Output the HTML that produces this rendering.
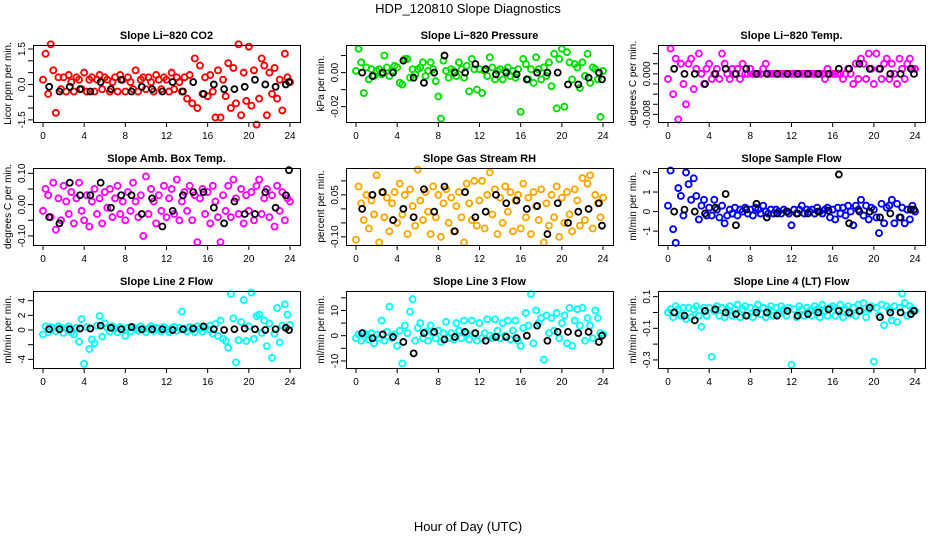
<!DOCTYPE html>
<html><head><meta charset="utf-8"><style>
html,body{margin:0;padding:0;background:#fff;}
svg{display:block;font-family:"Liberation Sans",Arial,sans-serif;}
</style></head><body>
<svg id="chart" width="936" height="540" viewBox="0 0 936 540" xmlns="http://www.w3.org/2000/svg">
<rect width="936" height="540" fill="#fff"/>
<text x="468" y="13" text-anchor="middle" font-size="13">HDP_120810  Slope Diagnostics</text>
<text x="468" y="531" text-anchor="middle" font-size="13">Hour of Day (UTC)</text>
</svg>
<script>
const blackHours=[0.6,1.6,2.6,3.6,4.6,5.6,6.6,7.6,8.6,9.6,10.6,11.6,12.6,13.6,14.6,15.6,16.6,17.6,18.6,19.6,20.6,21.6,22.6,23.6,23.9];
const xTicks=[0,4,8,12,16,20,24];
const panelTitles=["Slope Li\u2212820 CO2","Slope Li\u2212820 Pressure","Slope Li\u2212820 Temp.","Slope Amb. Box Temp.","Slope Gas Stream RH","Slope Sample Flow","Slope Line 2 Flow","Slope Line 3 Flow","Slope Line 4 (LT) Flow"];
const yTitles=["Licor ppm per min.","kPa per min.","degrees C per min.","degrees C per min.","percent per min.","ml/min per min.","ml/min per min.","ml/min per min.","ml/min per min."];
const yLims=[[-1.59,1.67],[-0.029,0.0162],[-0.0095,0.0057],[-0.129,0.117],[-0.129,0.146],[-1.71,2.23],[-5.18,5.32],[-12.8,17.7],[-0.351,0.136]];
const yTicks=[[-1.5,-1,-0.5,0,0.5,1,1.5],[-0.02,-0.01,0,0.01],[-0.008,-0.006,-0.004,-0.002,0,0.002,0.004],[-0.1,-0.05,0,0.05,0.1],[-0.1,-0.05,0,0.05,0.1],[-1,0,1,2],[-4,-2,0,2,4],[-10,-5,0,5,10,15],[-0.3,-0.2,-0.1,0,0.1]];
const yTickLabels=[["-1.5","","","0.0","","","1.5"],["-0.02","","0.00",""],["-0.008","","","","0.000","",""],["-0.10","","0.00","","0.10"],["-0.10","","","0.05",""],["-1","0","1","2"],["-4","","0","2","4"],["-10","","0","","10",""],["-0.3","","-0.1","","0.1"]];
const colors=["#ff0000","#00e000","#ff00ff","#ff00ff","#ffa500","#0000ff","#00ffff","#00ffff","#00ffff"];
const co2=[0.2,1.3,-0.4,1.7,0.6,-1.2,0.3,-0.2,0.3,-0.3,0.4,0.1,-0.3,0.3,0.2,-0.2,0.5,-0.3,0.2,0.3,-0.3,0.2,0.4,-0.2,0.3,0.2,-0.3,0.1,0.3,-0.3,0.4,0.2,-0.3,0.3,0.1,-0.2,0.6,-0.3,0.2,0.3,-0.2,0.3,0.1,-0.3,0.4,0.2,-0.2,0.3,0.2,-0.3,0.5,-0.2,0.3,0.1,-0.3,0.3,-0.6,0.4,-0.8,1.1,-1.0,0.8,-0.4,0.3,-0.5,0.4,-0.3,-1.4,0.6,-1.4,0.2,-0.5,0.9,-1.0,0.7,-0.8,1.7,-1.3,0.5,-0.7,1.6,-0.9,0.6,-1.7,-0.6,1.1,0.8,-1.3,0.5,-0.4,0.7,-0.6,0.2,-1.1,1.3,0.3,0.1];
const co2Black=[-0.1,-0.3,-0.1,-0.2,-0.3,0.1,-0.2,0.2,-0.3,-0.1,-0.2,-0.3,0.1,-0.3,0.1,-0.4,0.0,-0.2,-0.2,-0.1,0.2,0.0,-0.1,0.0,0.1];
const press=[0.001,0.014,0.006,-0.012,0.003,-0.004,0.002,-0.002,0.001,0.002,-0.001,0.010,0.003,-0.002,0.001,0.004,0.003,-0.006,-0.007,0.008,0.008,-0.003,0.002,-0.001,0.002,0.003,0.006,-0.002,0.001,0.006,0.002,-0.005,-0.014,-0.027,0.007,0.001,-0.003,0.002,0.001,-0.002,0.006,0.002,-0.003,0.004,-0.011,0.008,0.002,-0.010,0.002,-0.012,0.001,-0.002,0.009,0.003,-0.004,0.001,0.002,-0.004,0.001,0.003,-0.002,0.001,-0.003,0.002,-0.023,0.008,0.005,-0.004,0.002,-0.006,0.009,0.002,-0.004,0.003,-0.002,0.006,-0.008,0.011,-0.021,0.008,0.014,-0.020,0.012,0.006,-0.004,0.005,0.003,-0.009,0.006,-0.002,0.011,-0.006,0.003,0.002,-0.004,-0.026,0.001];
const pressBlack=[0.0,-0.002,0.0,0.0,0.007,-0.003,-0.006,0.0,0.010,0.0,0.0,0.005,0.002,-0.001,0.0,-0.001,-0.004,0.0,0.0,0.0,-0.007,-0.007,-0.003,0.0,-0.004];
const temp=[-0.001,0.005,-0.004,0.003,-0.009,0.002,-0.002,-0.006,0.002,0.003,-0.003,0.001,0.004,0.000,-0.002,0.001,0.002,-0.001,0.000,0.001,-0.001,0.004,0.002,0.000,-0.001,0.001,0.000,0.001,-0.001,0.002,0.000,0.000,0.001,0.000,0.000,0.000,0.000,0.001,0.002,0.000,0,0,0,0,0,0,0,0,0,0,0,0,0,0,0,0,0,0,0,0,0,-0.001,0.001,0,0,0,0,0,-0.001,0,0.001,0,-0.002,0.002,-0.001,0.003,0.002,-0.001,0.004,0.001,-0.002,0.004,0.001,-0.001,0.002,0.003,-0.001,0.002,0.000,-0.002,0.003,0.001,-0.001,0.002,0.003,0.001,0.001];
const tempBlack=[0.001,0,0,-0.002,0,0.001,0,0.001,0,0,0,0,0,0,0,0,0.001,0.001,0.002,0.001,0.001,0,0,0.001,0];
const amb=[-0.02,0.05,0.03,-0.04,0.07,-0.08,0.02,-0.05,0.06,0.01,-0.03,0.04,-0.06,0.02,0.07,-0.02,-0.05,0.03,-0.07,0.01,0.05,-0.03,0.02,-0.06,0.04,-0.01,0.05,-0.04,0.02,0.06,-0.03,0.01,-0.05,0.04,-0.02,0.07,0.01,-0.04,0.03,-0.10,0.09,-0.03,0.05,0.01,-0.06,0.03,-0.02,0.06,-0.04,0.02,0.05,-0.03,0.08,-0.05,0.01,0.04,-0.02,0.06,-0.05,0.03,-0.12,0.02,0.05,-0.03,0.04,-0.06,0.06,0.01,-0.04,-0.12,0.03,-0.02,0.06,-0.04,0.08,0.02,-0.03,0.05,-0.06,0.03,-0.02,0.04,-0.05,0.06,0.08,-0.03,0.02,0.05,-0.04,0.03,-0.07,0.06,-0.02,0.04,-0.05,0.02,0.01];
const ambBlack=[-0.04,-0.06,0.07,0.03,0.03,0.07,-0.01,0.03,0.03,-0.03,0.02,-0.07,-0.02,0.03,0.04,0.04,-0.01,-0.06,0.01,-0.03,-0.03,0.04,-0.01,0.03,0.11];
const rh=[-0.11,0.08,0.02,-0.04,0.05,-0.07,0.03,-0.02,0.12,-0.12,0.06,-0.03,0.04,-0.08,0.02,0.06,-0.05,0.09,-0.02,0.05,-0.09,0.07,0.01,-0.06,0.14,0.03,-0.04,0.06,-0.01,-0.09,0.08,-0.03,0.05,-0.10,0.02,0.07,-0.05,0.04,-0.08,0.01,0.06,-0.03,-0.12,0.09,0.02,-0.04,0.10,-0.06,0.03,0.10,-0.07,0.05,0.13,-0.02,0.07,-0.09,0.04,-0.05,0.08,-0.01,0.06,-0.08,0.03,0.05,-0.07,0.09,-0.03,0.04,-0.09,0.06,0.01,-0.04,0.07,-0.12,0.02,-0.06,0.05,-0.03,0.08,-0.10,0.04,-0.05,0.06,-0.02,-0.08,0.07,0.03,-0.06,0.11,-0.04,0.09,0.12,-0.07,0.05,0.02,-0.03,0.04];
const rhBlack=[0.0,0.05,0.06,-0.04,0.0,-0.03,0.07,-0.01,0.08,-0.08,0.06,-0.03,-0.01,0.05,0.02,0.03,0.0,0.01,-0.09,0.02,-0.05,-0.01,0.0,0.02,-0.06];
const sflow=[0.3,2.1,-0.9,-1.6,1.2,0.8,-0.2,2.0,1.4,0.6,1.7,0.8,-0.4,0.3,0.6,-0.2,0.2,-0.2,0.6,0.1,-0.3,0.3,-0.6,-0.2,0.1,-0.1,0.2,-0.2,0.1,0.0,0.2,-0.1,0.1,-0.2,0.2,0.1,-0.1,0.3,0.0,-0.1,0.1,-0.1,0.1,0.0,-0.1,0.1,0.0,-0.1,-0.7,0.1,-0.1,0.1,0.3,-0.1,0.1,0.0,0.1,-0.1,0.2,0.0,-0.1,0.1,0.2,-0.3,0.1,-0.4,0.2,-0.1,0.2,-0.2,0.3,0.0,-0.7,0.3,0.1,0.6,-0.2,0.3,-0.4,0.2,0.1,-0.3,-1.1,0.4,-0.6,0.2,0.3,0.6,-0.6,0.4,-0.3,0.2,-0.6,0.1,-0.4,0.3,0.0];
const sflowBlack=[0.0,0.1,0.0,-0.1,0.2,0.9,-0.7,0.1,0.4,-0.3,-0.1,0.0,-0.1,-0.1,0.0,0.05,1.9,-0.6,0.0,0.0,-0.3,-0.1,-0.3,0.1,0.1];
const line2=[-0.6,0.5,-0.3,0.4,0.3,-0.2,0.5,0.3,-0.4,0.2,0.5,-0.3,-0.6,0.3,-1.6,1.5,-4.6,0.4,-2.6,-1.3,-1.8,0.6,1.9,-0.9,0.9,0.3,-0.2,0.5,0.2,-0.3,0.4,0.2,-0.8,0.3,-0.2,0.4,0.2,-0.1,0.5,0.1,-0.3,0.2,0.5,-0.1,0.3,0.2,-0.2,0.4,0.1,-0.3,0.2,0.4,-0.1,0.3,2.5,0.2,-0.2,0.4,0.1,-0.3,0.5,0.2,-0.2,0.3,0.1,0.6,-0.5,0.8,-0.8,1.3,-1.2,-1.5,-2.4,4.9,1.6,-4.4,-1.4,1.1,4.1,-1.5,0.5,5.1,-1.2,1.9,2.1,-0.4,1.3,-2.2,0.9,-3.8,-0.5,3.0,-1.7,0.6,3.5,2.1,0.7];
const line2Black=[0.1,0.1,0.1,0.2,0.2,0.6,0.3,0.1,0.4,0.1,0.1,0.1,0.0,0.1,0.2,0.5,0.1,0.0,0.1,0.2,0.1,0.0,0.1,0.3,0.0];
const line3=[-1,0.5,-2,1,0.5,-1.5,1,-3,0.5,-1,6,-2,1.5,11.5,-1,0.5,-4,2,-11,4,1,9.5,14.5,-2,3,5,-1,1.5,-2,4,1,-1,2,-2.5,1,5.5,-1,1,-1.5,5,2,-1,6,1,-1.5,6,1,-2,5,-1,1,6.5,0,-1,6.5,2,-1,5,0,6,-1.5,2,6,-2,-4,3,9,4,16.5,-3,10,5,7,-9.5,8,1,7,2,9,-1,5,8,-3,11,-4,6,10.5,4,11,-2,7,4,-1,10,7,1,0.5];
const line3Black=[1,-1,0.5,-0.5,-2.5,-7,1,1.5,-1.5,-0.5,1.5,1,-2,-0.5,-0.5,-1,0,4,-2,1.5,1.5,1,1.5,-2.5,0];
const line4=[0.0,0.02,-0.03,0.04,0.02,-0.02,0.03,-0.04,0.03,-0.03,0.02,0.04,-0.02,-0.09,0.03,-0.02,0.03,-0.28,0.01,0.04,-0.02,0.03,-0.03,0.02,0.04,-0.02,0.02,0.05,-0.03,0.02,0.04,-0.02,0.03,-0.03,0.02,0.05,-0.01,0.03,-0.03,0.02,0.04,-0.02,0.03,-0.01,0.04,0.02,-0.02,0.03,-0.33,0.02,-0.03,0.04,0.02,-0.02,0.03,0.01,-0.02,0.04,0.02,-0.03,0.05,0.01,-0.02,0.03,0.04,-0.02,0.02,0.05,-0.03,0.02,0.04,-0.01,0.03,-0.02,0.05,0.01,0.06,-0.03,0.02,0.04,-0.31,0.03,-0.02,0.05,-0.08,0.04,0.02,-0.05,0.04,-0.06,0.03,0.12,0.06,-0.02,0.04,0.02,0.01];
const line4Black=[0.0,-0.02,-0.05,0.01,0.02,0.0,-0.01,-0.02,0.0,0.0,-0.02,0.01,-0.02,-0.01,0.0,0.02,0.01,0.0,0.01,0.03,-0.03,0.0,0.0,-0.01,0.01];
const colorSeries=[co2,press,temp,amb,rh,sflow,line2,line3,line4];
const blackSeries=[co2Black,pressBlack,tempBlack,ambBlack,rhBlack,sflowBlack,line2Black,line3Black,line4Black];

const NS="http://www.w3.org/2000/svg";
const svg=document.getElementById('chart');
const boxLefts=[33,346,658], boxTops=[45,168,291], boxW=267, boxH=77;
function mk(tag,attrs,parent){const e=document.createElementNS(NS,tag);for(const k in attrs)e.setAttribute(k,attrs[k]);(parent||svg).appendChild(e);return e;}
const slugs=["co2","pressure","li820-temp","amb-box-temp","gas-stream-rh","sample-flow","line2-flow","line3-flow","line4-flow"];
for(let p=0;p<9;p++){
  const L=boxLefts[p%3], T=boxTops[Math.floor(p/3)];
  const g=mk('g',{});
  
  
  const xs=h=>L+10+h/24*247;
  const [y0,y1]=yLims[p];
  const ys=v=>T+boxH-(v-y0)/(y1-y0)*boxH;
  const t=mk('text',{x:L+boxW/2,y:T-6,'text-anchor':'middle','font-size':11,'font-weight':'bold'},g);
  t.textContent=panelTitles[p];
  
  
  const cs=colorSeries[p];
  for(let i=0;i<cs.length;i++){
    const c=mk('circle',{cx:xs(i*0.25),cy:ys(cs[i]),r:3,fill:'none',stroke:colors[p],'stroke-width':1.9},g);
    
    
  }
  const bs=blackSeries[p];
  for(let i=0;i<bs.length;i++){
    const c=mk('circle',{cx:xs(blackHours[i]),cy:ys(bs[i]),r:3,fill:'none',stroke:'#000','stroke-width':1.8},g);
    
    
  }
  const b=mk('rect',{x:L+0.5,y:T+0.5,width:boxW,height:boxH,fill:'none',stroke:'#000','stroke-width':1},g);
  
  
  mk('line',{x1:xs(0),x2:xs(24),y1:T+boxH+0.5,y2:T+boxH+0.5,stroke:'#000'},g);
  xTicks.forEach(h=>{
    mk('line',{x1:xs(h),x2:xs(h),y1:T+boxH,y2:T+boxH+5,stroke:'#000'},g);
    const tx=mk('text',{x:xs(h),y:T+boxH+17,'text-anchor':'middle','font-size':10},g);
    tx.textContent=h;
    
    
  });
  const tk=yTicks[p];
  mk('line',{x1:L+0.5,x2:L+0.5,y1:ys(tk[0]),y2:ys(tk[tk.length-1]),stroke:'#000'},g);
  tk.forEach((v,i)=>{
    const yy=ys(v);
    mk('line',{x1:L-5,x2:L,y1:yy,y2:yy,stroke:'#000'},g);
    if(yTickLabels[p][i]){
      const ty=mk('text',{x:L-8,y:yy,'text-anchor':'middle','font-size':10,transform:`rotate(-90 ${L-8} ${yy})`},g);
      ty.textContent=yTickLabels[p][i];
      
      
    }
  });
  const yt=mk('text',{x:L-22,y:T+boxH/2,'text-anchor':'middle','font-size':10,transform:`rotate(-90 ${L-22} ${T+boxH/2})`},g);
  yt.textContent=yTitles[p];
  
  
}
</script>
</body></html>
